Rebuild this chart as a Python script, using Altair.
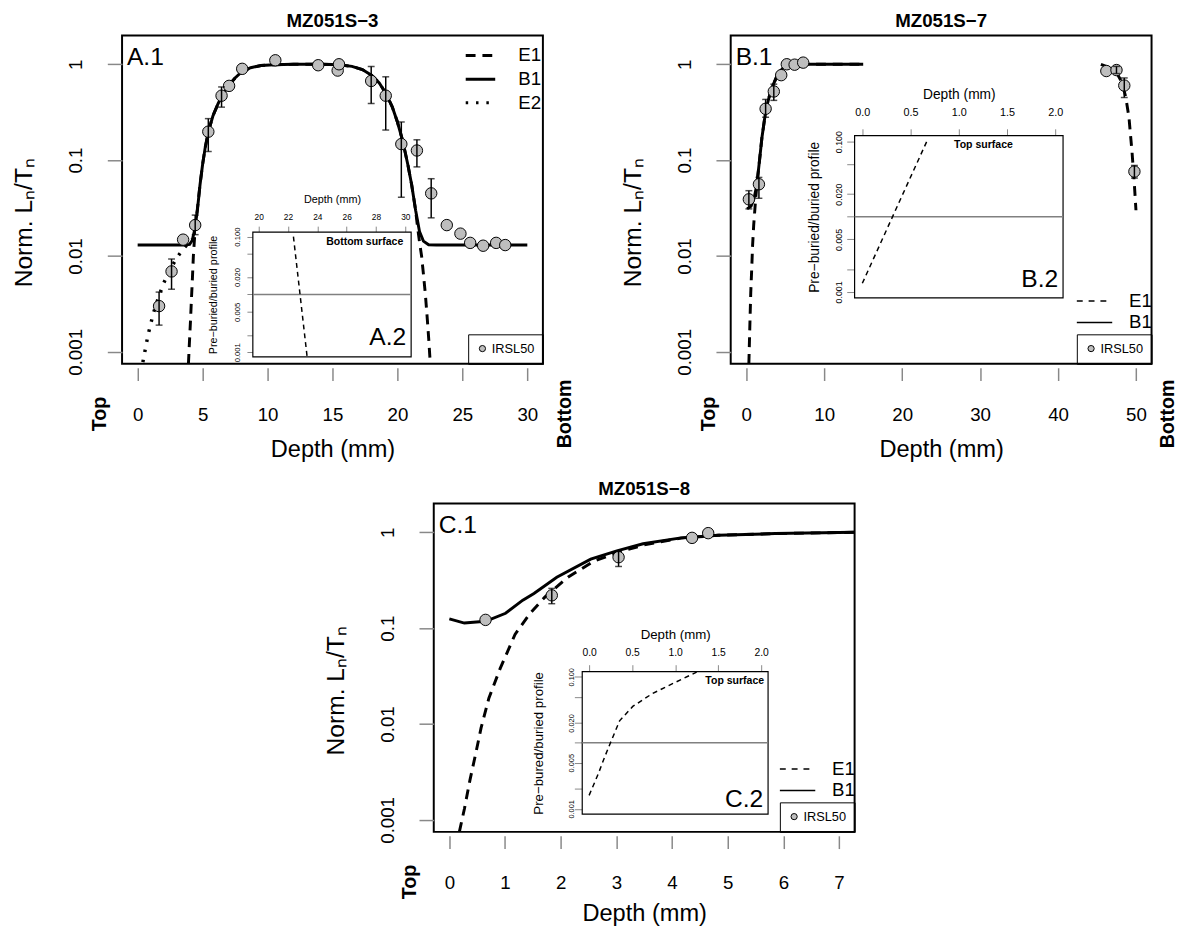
import altair as alt
import pandas as pd

FONT = "Liberation Sans"

# ---------------- shared axis values ----------------
Y_TICKS = [0.001, 0.01, 0.1, 1]
YDOM = [0.00075, 2.0]
IN_Y_TICKS = [0.001, 0.002, 0.005, 0.01, 0.02, 0.05, 0.1]
IN_YDOM = [0.00083, 0.12]
IN_THRESHOLD = [0.01]

# ---------------- Panel A : MZ051S-3 ----------------
A_pt_x = [1.65, 2.61, 3.5, 4.43, 5.44, 6.46, 7.04, 8.05, 10.6, 13.9, 15.4, 15.5,
          17.98, 19.1, 20.3, 21.5, 22.6, 23.8, 24.85, 25.6, 26.6, 27.6, 28.3]
A_pt_y = [0.0030, 0.0069, 0.0148, 0.021, 0.198, 0.47, 0.595, 0.896, 1.10, 0.977, 0.86, 1.0,
          0.67, 0.47, 0.147, 0.126, 0.045, 0.021, 0.0171, 0.0137, 0.0128, 0.0137, 0.013]
A_err_x = [1.65, 2.61, 4.43, 5.44, 6.46, 17.98, 19.1, 20.3, 21.5, 22.6]
A_err_lo = [0.0019, 0.0045, 0.0167, 0.123, 0.357, 0.39, 0.206, 0.041, 0.085, 0.025]
A_err_hi = [0.0042, 0.0093, 0.0267, 0.271, 0.58, 0.95, 0.74, 0.25, 0.163, 0.064]
A_B1_x = [0, 3.6, 4.0, 4.2, 4.4, 4.6, 4.8, 5.0, 5.2, 5.45, 5.8, 6.2, 6.5, 7.0, 7.5, 8.0, 8.7,
          9.5, 10.5, 12, 14, 15.5, 16.5, 17.3, 18.0, 18.6, 19.1, 19.6, 20.0, 20.4, 20.8, 21.1,
          21.4, 21.7, 22.0, 22.4, 23, 30]
A_B1_y = [0.013, 0.013, 0.0132, 0.0145, 0.019, 0.03, 0.055, 0.09, 0.135, 0.2, 0.29, 0.39,
          0.47, 0.6, 0.72, 0.83, 0.92, 0.97, 0.99, 1.0, 1.0, 0.99, 0.95, 0.88, 0.77, 0.64, 0.5,
          0.36, 0.25, 0.16, 0.09, 0.055, 0.03, 0.018, 0.0143, 0.0131, 0.013, 0.013]
A_E1_x = [3.91, 3.98, 4.06, 4.14, 4.22, 4.29, 4.4, 4.5, 4.6, 4.8, 5.0, 5.2, 5.45, 5.8, 6.2,
          6.5, 7.0, 7.5, 8.0, 8.7, 9.5, 10.5, 12, 14, 15.5, 16.5, 17.3, 18.0, 18.6, 19.1, 19.6,
          20.0, 20.4, 20.8, 21.1, 21.4, 21.55, 21.7, 21.86, 22.0, 22.15, 22.3, 22.42, 22.53]
A_E1_y = [0.00075, 0.0012, 0.002, 0.0035, 0.006, 0.01, 0.017, 0.024, 0.031, 0.055, 0.09,
          0.135, 0.2, 0.29, 0.39, 0.47, 0.6, 0.72, 0.83, 0.92, 0.97, 0.99, 1.0, 1.0, 0.99, 0.95,
          0.88, 0.77, 0.64, 0.5, 0.36, 0.25, 0.16, 0.09, 0.055, 0.03, 0.02, 0.014, 0.01, 0.0065,
          0.004, 0.0022, 0.0013, 0.00075]
A_E2_x = [0.4, 0.8, 1.2, 1.6, 2.0, 2.5, 3.0, 3.5, 3.9, 4.2]
A_E2_y = [0.00078, 0.0015, 0.0025, 0.0037, 0.0052, 0.0072, 0.0095, 0.0118, 0.0135, 0.015]
A_in_x = [22.37, 22.82, 23.3]
A_in_y = [0.1, 0.01, 0.00085]

# ---------------- Panel B : MZ051S-7 ----------------
B_pt_x = [0.33, 1.62, 2.48, 3.53, 4.48, 5.2, 6.2, 7.3, 46.2, 47.5, 48.5, 49.8]
B_pt_y = [0.039, 0.056, 0.343, 0.52, 0.77, 1.0, 0.99, 1.04, 0.85, 0.87, 0.6, 0.076]
B_err_x = [0.33, 1.62, 2.48, 3.53, 47.5, 48.5, 49.8]
B_err_lo = [0.031, 0.04, 0.28, 0.42, 0.8, 0.45, 0.065]
B_err_hi = [0.048, 0.066, 0.43, 0.62, 0.95, 0.72, 0.088]
B_B1_x = [0.1, 0.6, 1.0, 1.35, 1.7, 2.0, 2.5, 3.0, 3.4, 3.9, 4.3, 4.8, 5.5, 6.5, 10, 15]
B_B1_y = [0.031, 0.033, 0.04, 0.055, 0.1, 0.17, 0.33, 0.48, 0.6, 0.74, 0.84, 0.93, 0.98,
          1.0, 1.0, 1.0]
B_E1a_x = [0.33, 0.45, 0.57, 0.7, 0.81, 0.95, 1.14, 1.35, 1.7, 2.0, 2.5, 3.0, 3.4, 3.9, 4.3,
           4.8, 5.5, 6.5, 10, 15]
B_E1a_y = [0.00075, 0.0018, 0.0041, 0.0075, 0.013, 0.021, 0.034, 0.055, 0.1, 0.17, 0.33,
           0.48, 0.6, 0.74, 0.84, 0.93, 0.98, 1.0, 1.0, 1.0]
B_E1b_x = [45.5, 46.5, 47.5, 48.2, 48.7, 49.1, 49.5, 49.8, 50.0]
B_E1b_y = [1.0, 0.93, 0.82, 0.65, 0.45, 0.28, 0.12, 0.055, 0.03]
B_in_x = [0.0, 0.333, 0.667]
B_in_y = [0.0013, 0.0114, 0.1]

# ---------------- Panel C : MZ051S-8 ----------------
C_pt_x = [0.65, 1.84, 3.04, 4.36, 4.65]
C_pt_y = [0.122, 0.22, 0.55, 0.875, 0.98]
C_err_x = [1.84, 3.04]
C_err_lo = [0.18, 0.44]
C_err_hi = [0.26, 0.64]
C_B1_x = [0.0, 0.27, 0.65, 1.01, 1.32, 1.52, 1.93, 2.54, 3.01, 3.48, 4.16, 4.83, 5.85, 7.3]
C_B1_y = [0.125, 0.113, 0.118, 0.143, 0.196, 0.23, 0.34, 0.525, 0.64, 0.76, 0.875, 0.93,
          0.97, 1.0]
C_E1_x = [0.18, 0.27, 0.37, 0.47, 0.57, 0.71, 0.91, 1.18, 1.45, 1.72, 2.13, 2.6, 3.0, 3.5,
          4.16, 4.83, 5.85, 7.3]
C_E1_y = [0.00075, 0.0013, 0.0026, 0.0048, 0.0091, 0.0186, 0.0376, 0.086, 0.143, 0.212,
          0.34, 0.5, 0.61, 0.74, 0.87, 0.93, 0.97, 1.0]
C_in_x = [0.0, 0.107, 0.183, 0.248, 0.354, 0.507, 0.735, 0.964, 1.25]
C_in_y = [0.0016, 0.0034, 0.0062, 0.01, 0.0215, 0.0356, 0.0557, 0.078, 0.118]

W, H = 428, 334
ONE = pd.DataFrame({"a": [0]})
LEG_LINE = "M-2,0H2"   # long horizontal legend stroke


def txt(text, x, y, size, bold=False, angle=None, align="left", baseline="alphabetic"):
    kw = dict(text=text, fontSize=size, font=FONT, align=align, baseline=baseline,
              color="black")
    if bold:
        kw["fontWeight"] = "bold"
    if angle is not None:
        kw["angle"] = angle
    return alt.Chart(ONE).mark_text(**kw).encode(x=alt.value(x), y=alt.value(y))


def make_panel(p):
    xs = alt.Scale(domain=p["xdom"], nice=False, zero=False)
    ys = alt.Scale(type="log", domain=YDOM, nice=False)
    xaxis = alt.Axis(orient="bottom", offset=4, values=p["xticks"], format="d",
                     grid=False, domain=False,
                     tickSize=13, tickWidth=1.5, labelFontSize=19, labelPadding=41,
                     labelBaseline="alphabetic", labelAngle=0, titleFontSize=24,
                     titleFontWeight="normal",
                     titleBaseline="alphabetic", titleX=W / 2, titleY=p["xty"],
                     titleAlign="center", titleAngle=0)
    yaxis = alt.Axis(orient="left", values=Y_TICKS, format="~g", tickSize=15,
                     grid=False, domain=False,
                     tickWidth=1.5, labelFontSize=19, labelAngle=270, labelAlign="center",
                     labelBaseline="alphabetic", labelPadding=26, titleFontSize=25,
                     titleFontWeight="normal",
                     titleAngle=270, titleAlign="center", titleBaseline="alphabetic",
                     titleX=-92, titleY=190)
    X = alt.X("x:Q", scale=xs, axis=xaxis, title="Depth (mm)")
    Y = alt.Y("y:Q", scale=ys, axis=yaxis, title="Norm. Lₙ/Tₙ")
    Ylo = alt.Y("lo:Q", scale=ys, axis=yaxis, title="Norm. Lₙ/Tₙ")
    Yhi = alt.Y("hi:Q", scale=ys, axis=yaxis, title="Norm. Lₙ/Tₙ")

    layers = []
    for cx, cy, dash, sw in p["curves"]:
        df = pd.DataFrame({"x": cx, "y": cy})
        mk = dict(color="black", strokeWidth=sw, clip=True)
        if dash:
            mk["strokeDash"] = dash
        layers.append(alt.Chart(df).mark_line(**mk).encode(x=X, y=Y))

    # legend for line styles (drawn only as a legend)
    names = p["leg_names"]
    ldf = pd.DataFrame({"x": [None] * len(names), "y": [None] * len(names),
                        "series": names})
    lg = p["leg"]
    layers.append(
        alt.Chart(ldf).mark_line(color="black", strokeWidth=lg["sw"]).encode(
            x=X, y=Y,
            strokeDash=alt.StrokeDash(
                "series:N",
                scale=alt.Scale(domain=names, range=p["leg_dash"]),
                legend=alt.Legend(title=None, orient="none", legendX=lg["x"],
                                  legendY=lg["y"], symbolType=LEG_LINE,
                                  symbolSize=lg["size"], symbolStrokeWidth=lg["sw"],
                                  symbolStrokeColor="black", labelFontSize=19,
                                  labelOffset=lg["off"], rowPadding=lg["row"],
                                  padding=0, labelLimit=0)))
    )

    pdf = pd.DataFrame({"x": p["px"], "y": p["py"], "lab": "IRSL50"})
    layers.append(
        alt.Chart(pdf).mark_point(shape="circle", filled=True, size=135, stroke="black",
                                  strokeWidth=1, opacity=1).encode(
            x=X, y=Y,
            fill=alt.Fill("lab:N", scale=alt.Scale(domain=["IRSL50"], range=["#bebebe"]),
                          legend=alt.Legend(title=None, orient="bottom-right", offset=0,
                                            padding=8, strokeColor="black",
                                            symbolType="circle", symbolSize=40,
                                            symbolStrokeColor="black",
                                            symbolStrokeWidth=1, labelFontSize=13,
                                            labelOffset=3)))
    )
    edf = pd.DataFrame({"x": p["ex"], "lo": p["elo"], "hi": p["ehi"]})
    layers.append(alt.Chart(edf).mark_rule(color="black", strokeWidth=1.5).encode(
        x=X, y=Ylo, y2="hi:Q"))
    layers.append(alt.Chart(edf).mark_tick(orient="horizontal", color="black",
                                           thickness=1.5, size=7).encode(x=X, y=Yhi))
    layers.append(alt.Chart(edf).mark_tick(orient="horizontal", color="black",
                                           thickness=1.5, size=7).encode(x=X, y=Ylo))

    # annotations
    layers.append(txt(p["title"], W / 2, -9, 19, bold=True, align="center"))
    layers.append(txt(p["tag1"], 5, 30, 25))
    layers.append(txt("Top", p["top_x"], 385, 20, bold=True, angle=270, align="center",
                      baseline="middle"))
    if p.get("bot_x") is not None:
        layers.append(txt("Bottom", p["bot_x"], 385, 20, bold=True, angle=270,
                          align="center", baseline="middle"))
    main = alt.layer(*layers)

    # ---------- inset ----------
    ins = p["inset"]
    l, r, t, b = ins["box"]
    ixs = alt.Scale(domain=ins["xdom"], range=[l, r], nice=False, zero=False)
    iys = alt.Scale(type="log", domain=IN_YDOM, range=[b, t], nice=False)
    ixaxis = alt.Axis(orient="top", offset=-t, values=ins["xticks"], format=ins["fmt"],
                      grid=False, domain=False,
                      tickSize=ins["tx"], tickWidth=1, labelFontSize=ins["lfx"],
                      labelPadding=ins["lpx"], labelBaseline="alphabetic", labelAngle=0,
                      titleFontSize=ins["tf"], titleFontWeight="normal",
                      titleBaseline="alphabetic",
                      titleX=(l + r) / 2, titleY=ins["tyx"], titleAlign="center",
                      titleAngle=0)
    iyaxis = alt.Axis(orient="left", offset=-l, values=IN_Y_TICKS,
                      grid=False, domain=False,
                      labelExpr="(datum.value == 0.1 || datum.value == 0.02 || "
                                "datum.value == 0.005 || datum.value == 0.001) ? "
                                "format(datum.value, '.3f') : ''",
                      tickSize=ins["ty"], tickWidth=1, labelFontSize=ins["lfy"],
                      labelAngle=270, labelAlign="center", labelBaseline="alphabetic",
                      labelPadding=ins["lpy"], titleFontSize=ins["tf"],
                      titleFontWeight="normal", titleAngle=270,
                      titleAlign="center", titleBaseline="alphabetic",
                      titleX=ins["txy"], titleY=(t + b) / 2)
    IX = alt.X("ix:Q", scale=ixs, axis=ixaxis, title="Depth (mm)")
    IY = alt.Y("iy:Q", scale=iys, axis=iyaxis, title=ins["ytitle"])
    fdf = pd.DataFrame({"ix": [ins["xdom"][0]], "ix2": [ins["xdom"][1]],
                        "iy": [IN_YDOM[0]], "iy2": [IN_YDOM[1]]})
    frame = alt.Chart(fdf).mark_rect(fill="white", stroke="black", strokeWidth=1.2).encode(
        x=IX, x2="ix2:Q", y=IY, y2="iy2:Q")
    tdf = pd.DataFrame({"ix": [ins["xdom"][0]], "ix2": [ins["xdom"][1]],
                        "iy": IN_THRESHOLD})
    thr = alt.Chart(tdf).mark_rule(color="#808080", strokeWidth=1.5).encode(
        x=IX, x2="ix2:Q", y=IY)
    idf = pd.DataFrame({"ix": ins["lx"], "iy": ins["ly"]})
    iline = alt.Chart(idf).mark_line(color="black", strokeWidth=1.5,
                                     strokeDash=[5, 4]).encode(x=IX, y=IY)
    sx, sy, salign = ins["surf_pos"]
    surf = txt(ins["surf"], sx, sy, 10.7, bold=True, align=salign, baseline="middle")
    tag2 = txt(ins["tag2"], r - 5, ins["tag2_y"], 25, align="right")
    inset = alt.layer(frame, thr, iline, surf, tag2)

    return alt.layer(main, inset).resolve_scale(x="independent", y="independent").properties(
        width=W, height=H,
        view=alt.ViewBackground(stroke="black", strokeWidth=2))


A = make_panel(dict(
    title="MZ051S−3", xdom=[-1.2, 31.2], xticks=[0, 5, 10, 15, 20, 25, 30], xty=90,
    curves=[(A_E2_x, A_E2_y, [2.5, 8], 3.5), (A_E1_x, A_E1_y, [10, 7], 3),
            (A_B1_x, A_B1_y, None, 3)],
    leg_names=["E1", "B1", "E2"], leg_dash=[[10, 7], [1, 0], [2.5, 8]],
    leg=dict(x=355, y=11, size=225, sw=3, off=29, row=4),
    px=A_pt_x, py=A_pt_y, ex=A_err_x, elo=A_err_lo, ehi=A_err_hi,
    tag1="A.1", top_x=-22, bot_x=451,
    inset=dict(box=(133, 294, 200, 327), xdom=[19.6, 30.4], xticks=[20, 22, 24, 26, 28, 30],
               fmt="d", tx=6, ty=6, lfx=8.5, lfy=7.8, lpx=7, lpy=8, tf=11, tyx=-30, txy=-37,
               ytitle="Pre−buried/buried profile", lx=A_in_x, ly=A_in_y,
               surf="Bottom surface", surf_pos=(286, 210, "right"), tag2="A.2", tag2_y=315),
))

B = make_panel(dict(
    title="MZ051S−7", xdom=[-2, 52], xticks=[0, 10, 20, 30, 40, 50], xty=90,
    curves=[(B_E1a_x, B_E1a_y, [10, 7], 3), (B_E1b_x, B_E1b_y, [10, 7], 3),
            (B_B1_x, B_B1_y, None, 3)],
    leg_names=["E1", "B1"], leg_dash=[[6, 6], [1, 0]],
    leg=dict(x=360, y=260, size=324, sw=1.5, off=25, row=2),
    px=B_pt_x, py=B_pt_y, ex=B_err_x, elo=B_err_lo, ehi=B_err_hi,
    tag1="B.1", top_x=-22, bot_x=445,
    inset=dict(box=(126, 338, 102, 267), xdom=[-0.08, 2.08], xticks=[0, 0.5, 1, 1.5, 2],
               fmt=".1f", tx=7, ty=8, lfx=11, lfy=9, lpx=14, lpy=5, tf=14, tyx=-38, txy=-37,
               ytitle="Pre−buried/buried profile", lx=B_in_x, ly=B_in_y,
               surf="Top surface", surf_pos=(257, 112, "center"), tag2="B.2", tag2_y=256),
))

C = make_panel(dict(
    title="MZ051S−8", xdom=[-0.28, 7.28], xticks=[0, 1, 2, 3, 4, 5, 6, 7], xty=86,
    curves=[(C_E1_x, C_E1_y, [10, 7], 3), (C_B1_x, C_B1_y, None, 3)],
    leg_names=["E1", "B1"], leg_dash=[[6, 6], [1, 0]],
    leg=dict(x=360, y=260, size=324, sw=1.5, off=25, row=2),
    px=C_pt_x, py=C_pt_y, ex=C_err_x, elo=C_err_lo, ehi=C_err_hi,
    tag1="C.1", top_x=-24, bot_x=None,
    inset=dict(box=(151, 340, 171, 316), xdom=[-0.08, 2.08], xticks=[0, 0.5, 1, 1.5, 2],
               fmt=".1f", tx=7, ty=8, lfx=10.5, lfy=7.5, lpx=9, lpy=1, tf=13.5, tyx=-34,
               txy=-40, ytitle="Pre−bured/buried profile", lx=C_in_x, ly=C_in_y,
               surf="Top surface", surf_pos=(336, 181, "right"), tag2="C.2", tag2_y=309),
))

spacer = alt.Chart(ONE).mark_point(opacity=0).encode(
    x=alt.value(0), y=alt.value(0)).properties(
    width=203, height=10, view=alt.ViewBackground(stroke="transparent"))

top = alt.hconcat(A, B, spacing=44).resolve_scale(
    strokeDash="independent", fill="independent").resolve_legend(
    strokeDash="independent", fill="independent")
bottom = alt.hconcat(spacer, C, spacing=0).resolve_scale(
    strokeDash="independent", fill="independent")

chart = alt.vconcat(top, bottom, spacing=17).resolve_scale(
    strokeDash="independent", fill="independent").resolve_legend(
    strokeDash="independent", fill="independent").properties(
    padding={"left": 3, "top": -5, "right": 5, "bottom": 0}
).configure_view(stroke="black", strokeWidth=2).configure_axis(
    tickColor="black", labelColor="black", titleColor="black", labelFont=FONT,
    titleFont=FONT, grid=False, domain=False, titleFontWeight="normal",
    labelFlush=False, labelOverlap=False
).configure_legend(labelFont=FONT, labelColor="black").configure(font=FONT)

chart.save("out.html", embed_options={"renderer": "svg", "actions": False})
